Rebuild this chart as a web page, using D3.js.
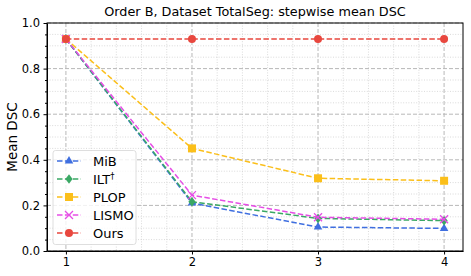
<!DOCTYPE html>
<html>
<head>
<meta charset="utf-8">
<script src="https://cdn.jsdelivr.net/npm/d3@7"></script>
<style>
  body { margin: 0; background: #fff; }
  text { font-family: "DejaVu Sans", sans-serif; fill: #000; }
</style>
</head>
<body>
<div id="chart"></div>
<script>
// data
const steps = [1, 2, 3, 4];
const mib = [0.93, 0.21, 0.105, 0.099];
const ilt = [0.93, 0.216, 0.143, 0.133];
const plop = [0.93, 0.45, 0.319, 0.308];
const lismo = [0.93, 0.245, 0.148, 0.139];
const ours = [0.93, 0.93, 0.93, 0.93];
const yTicks = [0.0, 0.2, 0.4, 0.6, 0.8, 1.0];

const series = [
  {name: "MiB", values: mib, color: "#3f6fe0", marker: "triangle"},
  {name: "ILT", sup: "†", values: ilt, color: "#3aa864", marker: "diamond"},
  {name: "PLOP", values: plop, color: "#fbbf1a", marker: "square"},
  {name: "LISMO", values: lismo, color: "#e64de6", marker: "cross"},
  {name: "Ours", values: ours, color: "#e8473e", marker: "circle"}
];

const W = 471, H = 276;
const margin = {top: 23, right: 8, bottom: 25, left: 47};
const width = W - margin.left - margin.right;
const height = H - margin.top - margin.bottom;

const svg = d3.select("#chart").append("svg").attr("width", W).attr("height", H);
const g = svg.append("g").attr("transform", `translate(${margin.left},${margin.top})`);

const x = d3.scaleLinear().domain([0.85, 4.15]).range([0, width]);
const y = d3.scaleLinear().domain([0, 1]).range([height, 0]);

// minor grid (dotted)
const xMinor = d3.range(0.8, 4.21, 0.2).filter(v => v > 0.85 && v < 4.15 && Math.abs(v - Math.round(v)) > 0.01);
const yMinor = d3.range(0, 1.001, 0.05).filter(v => Math.abs(v * 5 - Math.round(v * 5)) > 0.01);
g.selectAll(".xminor").data(xMinor).join("line")
  .attr("x1", d => x(d)).attr("x2", d => x(d)).attr("y1", 0).attr("y2", height)
  .attr("stroke", "#d0d0d0").attr("stroke-width", 0.8).attr("stroke-dasharray", "1,1.6");
g.selectAll(".yminor").data(yMinor).join("line")
  .attr("x1", 0).attr("x2", width).attr("y1", d => y(d)).attr("y2", d => y(d))
  .attr("stroke", "#d0d0d0").attr("stroke-width", 0.8).attr("stroke-dasharray", "1,1.6");

// major grid (dashed)
g.selectAll(".xmajor").data(steps).join("line")
  .attr("x1", d => x(d)).attr("x2", d => x(d)).attr("y1", 0).attr("y2", height)
  .attr("stroke", "#b8b8b8").attr("stroke-width", 1).attr("stroke-dasharray", "4,2");
g.selectAll(".ymajor").data(yTicks).join("line")
  .attr("x1", 0).attr("x2", width).attr("y1", d => y(d)).attr("y2", d => y(d))
  .attr("stroke", "#b8b8b8").attr("stroke-width", 1).attr("stroke-dasharray", "4,2");

// axes
g.append("g").attr("transform", `translate(0,${height})`)
  .call(d3.axisBottom(x).tickValues(steps).tickFormat(d3.format("d")).tickSize(3.5).tickSizeOuter(0).tickPadding(3.5))
  .call(a => a.selectAll("text").attr("font-size", 11.5));
g.append("g")
  .call(d3.axisLeft(y).tickValues(yTicks).tickFormat(d3.format(".1f")).tickSize(3.5).tickSizeOuter(0).tickPadding(3.5))
  .call(a => a.selectAll("text").attr("font-size", 11.5));
g.append("g")
  .call(d3.axisLeft(y).tickValues(yMinor).tickFormat("").tickSize(2).tickSizeOuter(0))
  .call(a => a.select(".domain").remove());

// frame
g.append("rect").attr("width", width).attr("height", height)
  .attr("fill", "none").attr("stroke", "#000").attr("stroke-width", 1);

function drawMarker(sel, type, color, s) {
  if (type === "circle") {
    sel.append("circle").attr("r", s * 0.5).attr("fill", color);
  } else if (type === "square") {
    sel.append("rect").attr("x", -s * 0.5).attr("y", -s * 0.5).attr("width", s).attr("height", s).attr("fill", color);
  } else if (type === "triangle") {
    sel.append("path").attr("d", d3.symbol(d3.symbolTriangle, s * s * 0.5)()).attr("fill", color);
  } else if (type === "diamond") {
    const r = s * 0.6;
    sel.append("path").attr("d", `M0,${-r}L${r * 0.75},0L0,${r}L${-r * 0.75},0Z`).attr("fill", color);
  } else if (type === "cross") {
    const r = s * 0.5;
    sel.append("path").attr("d", `M${-r},${-r}L${r},${r}M${-r},${r}L${r},${-r}`)
      .attr("stroke", color).attr("stroke-width", 1.3).attr("fill", "none");
  }
}

const line = d3.line().x((d, i) => x(steps[i])).y(d => y(d));
series.forEach(s => {
  g.append("path").datum(s.values)
    .attr("d", line).attr("fill", "none")
    .attr("stroke", s.color).attr("stroke-width", 1.5).attr("stroke-dasharray", "5.5,2.4");
  s.values.forEach((v, i) => {
    const m = g.append("g").attr("transform", `translate(${x(steps[i])},${y(v)})`);
    drawMarker(m, s.marker, s.color, 8);
  });
});

// title
svg.append("text").attr("x", margin.left + width / 2).attr("y", 16)
  .attr("text-anchor", "middle").attr("font-size", 12.8)
  .text("Order B, Dataset TotalSeg: stepwise mean DSC");

// y label
svg.append("text").attr("transform", `translate(17,${margin.top + height / 2}) rotate(-90)`)
  .attr("text-anchor", "middle").attr("font-size", 13.5).text("Mean DSC");

// legend
const lg = g.append("g").attr("transform", `translate(6,${height - 100.5})`);
lg.append("rect").attr("width", 83).attr("height", 94).attr("rx", 2.5)
  .attr("fill", "#fff").attr("fill-opacity", 0.8).attr("stroke", "#d6d6d6").attr("stroke-width", 0.8);
series.forEach((s, i) => {
  const row = lg.append("g").attr("transform", `translate(0,${10.5 + i * 18})`);
  row.append("line").attr("x1", 4).attr("x2", 28).attr("y1", 0).attr("y2", 0)
    .attr("stroke", s.color).attr("stroke-width", 1.5).attr("stroke-dasharray", "5.5,2.4");
  const m = row.append("g").attr("transform", "translate(16,0)");
  drawMarker(m, s.marker, s.color, 8);
  const t = row.append("text").attr("x", 40).attr("y", 4.8).attr("font-size", 13).text(s.name);
  if (s.sup) t.append("tspan").attr("font-size", 8.5).attr("dy", -5).text(s.sup);
});
</script>
</body>
</html>
